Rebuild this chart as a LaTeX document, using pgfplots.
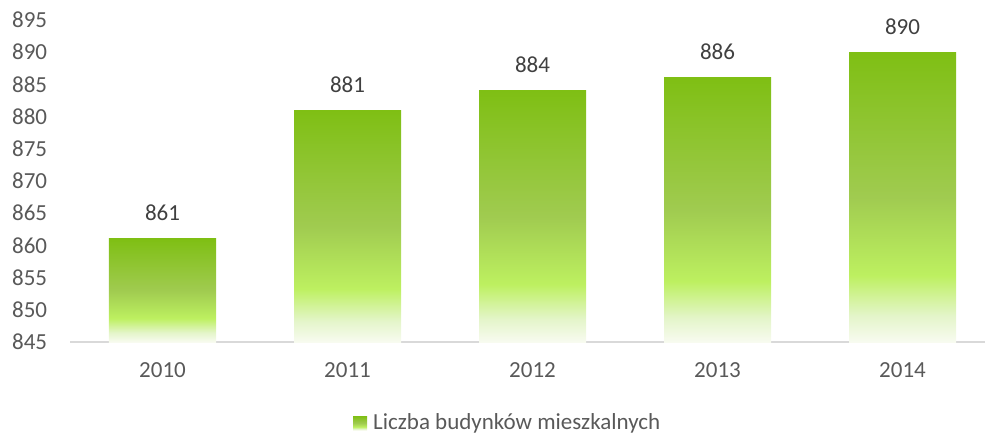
\documentclass[border=0pt]{standalone}
\usepackage{fontspec}
\setmainfont{Carlito}
\usepackage{pgfplots}
\pgfplotsset{compat=1.18}

\definecolor{tickgray}{HTML}{595959}
\definecolor{lblgray}{HTML}{404040}
\definecolor{axgray}{HTML}{D9D9D9}
\definecolor{g0}{HTML}{F8FBF0}
\definecolor{g1}{HTML}{E4F5CA}
\definecolor{g2}{HTML}{BDF060}
\definecolor{g3}{HTML}{A0CB50}
\definecolor{g4}{HTML}{7FBF14}
% the path's box maps to 25bp..75bp of the shading
\pgfdeclareverticalshading{barshade}{100bp}{color(0bp)=(g0); color(25bp)=(g0); color(29.5bp)=(g1); color(36.5bp)=(g2); color(50bp)=(g3); color(75bp)=(g4); color(100bp)=(g4)}

\pgfplotsset{
  gradbar/.style={ybar, bar width=107bp, bar shift=0pt, draw=none,
    shading=barshade, point meta=rawy, nodes near coords,
    nodes near coords style={text=lblgray, anchor=south, yshift=10bp}},
}

\begin{document}
\fontsize{23bp}{28bp}\selectfont
\begin{tikzpicture}
\useasboundingbox (-70bp,-95bp) rectangle (915bp,342bp);
\begin{axis}[
  at={(0,0)}, anchor=south west,
  scale only axis, width=915bp, height=322bp,
  xmin=-0.5, xmax=4.446,
  ymin=0, ymax=50,
  y filter/.expression={y-845},
  ytick={0,5,...,50},
  yticklabel={\pgfmathparse{int(\tick+845)}\pgfmathresult},
  xtick={0,1,2,3,4},
  xticklabels={2010,2011,2012,2013,2014},
  major tick length=0pt,
  axis x line*=bottom,
  axis y line*=left,
  x axis line style={draw=axgray, line width=1.5bp, -},
  y axis line style={draw=none},
  tick label style={text=tickgray},
  yticklabel style={xshift=-15bp},
  xticklabel style={yshift=-13bp},
  /pgf/number format/assume math mode=true,
  legend style={draw=none, fill=none, at={(0.3093,-0.252)}, anchor=west,
    text=tickgray, inner sep=0pt},
  legend cell align=left,
]
% one plot per bar so each bar gets its own gradient
\addplot[gradbar,
  legend image code/.code={\path[shading=barshade] (0bp,-7bp) rectangle (14bp,7bp);
    \path (14bp,0bp) -- (18bp,0bp);},
] coordinates {(0,861)};
\addlegendentry{Liczba budynków mieszkalnych}
\addplot[gradbar, forget plot] coordinates {(1,881)};
\addplot[gradbar, forget plot] coordinates {(2,884)};
\addplot[gradbar, forget plot] coordinates {(3,886)};
\addplot[gradbar, forget plot] coordinates {(4,890)};
\end{axis}
\end{tikzpicture}
\end{document}
